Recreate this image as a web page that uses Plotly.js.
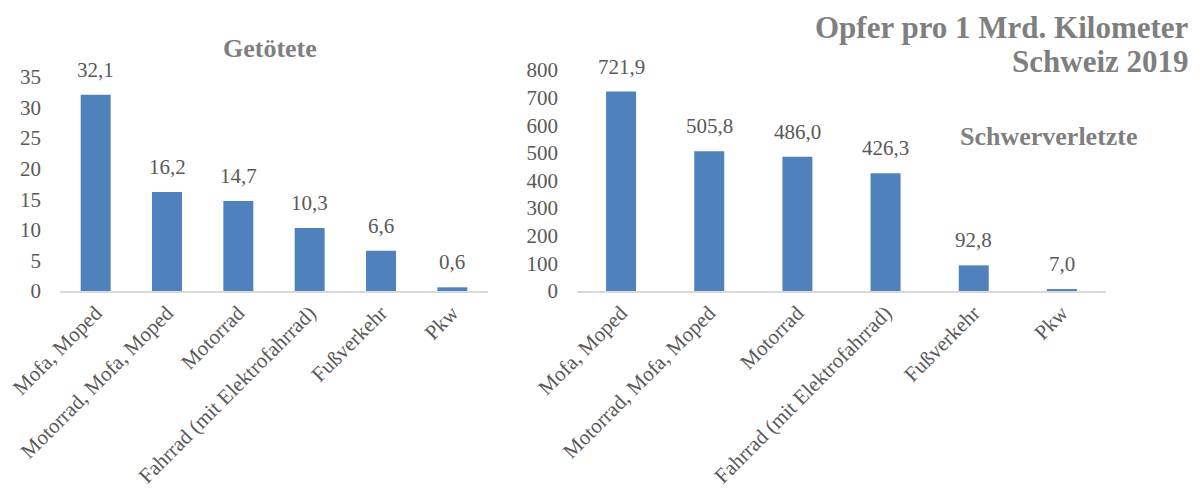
<!DOCTYPE html>
<html><head><meta charset="utf-8">
<script src="https://cdn.plot.ly/plotly-3.0.1.min.js"></script>
<style>html,body{margin:0;padding:0;background:#fff}#chart{width:1202px;height:489px}</style>
</head><body><div id="chart"></div>
<script>
const categories = ["Mofa, Moped","Motorrad, Mofa, Moped","Motorrad","Fahrrad (mit Elektrofahrrad)","Fußverkehr","Pkw"];
const getoetete = [32.1,16.2,14.7,10.3,6.6,0.6];
const schwerverletzte = [721.9,505.8,486.0,426.3,92.8,7.0];
const leftTicks = [0,5,10,15,20,25,30,35];
const rightTicks = [0,100,200,300,400,500,600,700,800];

const fmt = v => v.toFixed(1).replace('.', ',');
const serif = "'Liberation Serif','Times New Roman',serif";
const gray = '#595959';
const titleGray = '#7f7f7f';
const barColor = '#4f81bd';

const traces = [
  {type:'bar', x:categories, y:getoetete, xaxis:'x', yaxis:'y', marker:{color:barColor}, hoverinfo:'none', width:0.42},
  {type:'bar', x:categories, y:schwerverletzte, xaxis:'x2', yaxis:'y2', marker:{color:barColor}, hoverinfo:'none', width:0.34}
];

const annotations = [];
getoetete.forEach((v,i)=>annotations.push({x:categories[i], y:v, xref:'x', yref:'y', text:fmt(v), showarrow:false, yanchor:'bottom', yshift:11, font:{family:serif,size:21,color:gray}}));
schwerverletzte.forEach((v,i)=>annotations.push({x:categories[i], y:v, xref:'x2', yref:'y2', text:fmt(v), showarrow:false, yanchor:'bottom', yshift:11, font:{family:serif,size:21,color:gray}}));
annotations.push({text:'<b>Getötete</b>', xref:'paper', yref:'paper', x:270/1202, y:1-49/489, xanchor:'center', yanchor:'middle', showarrow:false, font:{family:serif,size:26,color:titleGray}});
annotations.push({text:'<b>Schwerverletzte</b>', xref:'paper', yref:'paper', x:1049/1202, y:1-136/489, xanchor:'center', yanchor:'middle', showarrow:false, font:{family:serif,size:26,color:titleGray}});
annotations.push({text:'<b>Opfer pro 1 Mrd. Kilometer</b>', xref:'paper', yref:'paper', x:1191/1202, y:1-27/489, xanchor:'right', yanchor:'middle', showarrow:false, font:{family:serif,size:31,color:titleGray}});
annotations.push({text:'<b>Schweiz 2019</b>', xref:'paper', yref:'paper', x:1191/1202, y:1-62/489, xanchor:'right', yanchor:'middle', showarrow:false, font:{family:serif,size:31,color:titleGray}});

const xCommon = {type:'category', range:[-0.5,5.5], showline:true, linecolor:'#d9d9d9', linewidth:1.5, ticks:'', tickangle:-45, tickfont:{family:serif,size:21,color:gray}, showgrid:false, zeroline:false, automargin:false, fixedrange:true};
const yCommon = {showline:false, showgrid:false, zeroline:false, ticks:'', tickfont:{family:serif,size:21,color:gray}, automargin:false, fixedrange:true, ticklabelstandoff:18};

const layout = {
  width:1202, height:489,
  margin:{l:0,r:0,t:0,b:0},
  paper_bgcolor:'#fff', plot_bgcolor:'rgba(0,0,0,0)',
  showlegend:false,
  xaxis: Object.assign({}, xCommon, {domain:[60/1202, 488/1202], anchor:'y'}),
  yaxis: Object.assign({}, yCommon, {domain:[1-291/489, 1-77/489], range:[0,35], tickvals:leftTicks, anchor:'x'}),
  xaxis2: Object.assign({}, xCommon, {domain:[577/1202, 1106/1202], anchor:'y2'}),
  yaxis2: Object.assign({}, yCommon, {domain:[1-291/489, 1-70/489], range:[0,800], tickvals:rightTicks, anchor:'x2'}),
  annotations: annotations
};

Plotly.newPlot('chart', traces, layout, {staticPlot:true, displayModeBar:false});
</script></body></html>
